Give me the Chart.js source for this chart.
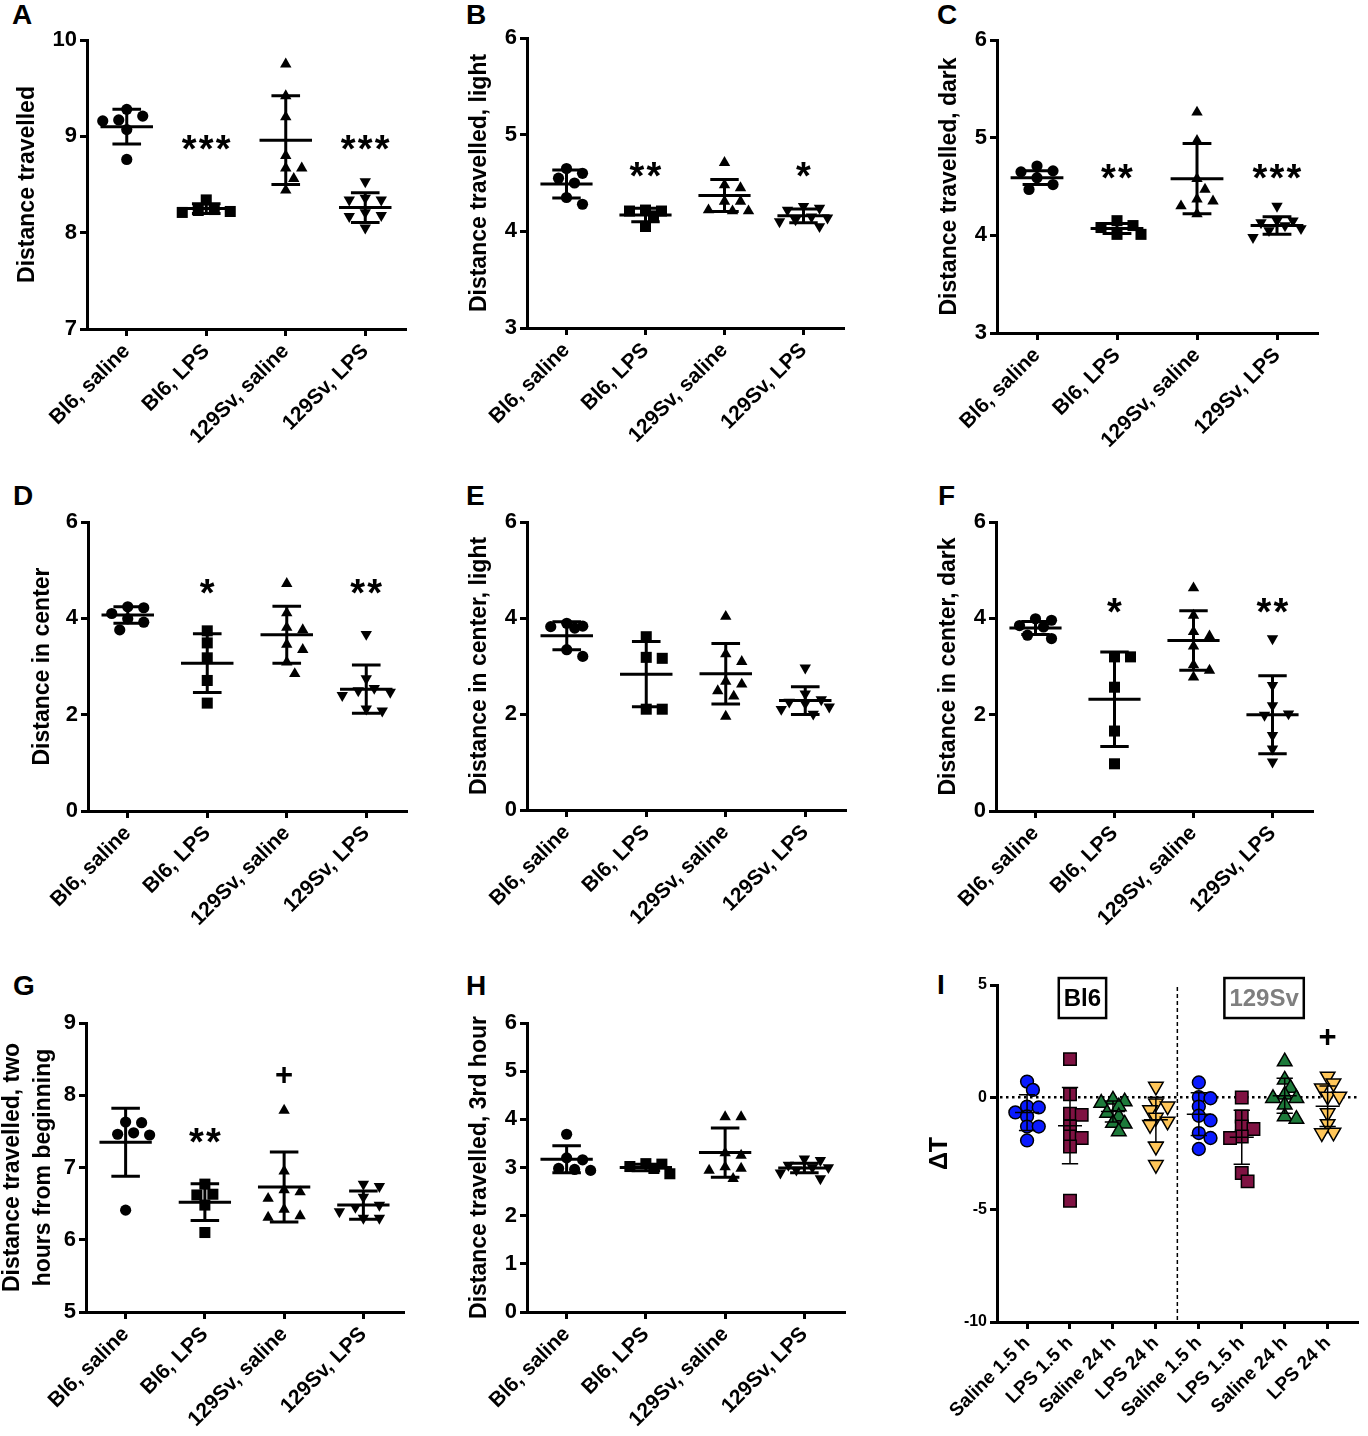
<!DOCTYPE html>
<html>
<head>
<meta charset="utf-8">
<title>Open field and body temperature</title>
<script src="https://cdn.jsdelivr.net/npm/chart.js@4.4.1/dist/chart.umd.min.js"></script>
<style>
  body { margin: 0; background: #fff; width: 1368px; height: 1436px; position: relative; overflow: hidden;
         font-family: "Liberation Sans", Arial, sans-serif; }
  .letter { position: absolute; font-weight: bold; font-size: 28px; line-height: 1; color: #000; }
</style>
</head>
<body>
<div class="letter" style="left:12px;top:1px">A</div>
<div class="letter" style="left:466px;top:1px">B</div>
<div class="letter" style="left:937px;top:1px">C</div>
<div class="letter" style="left:13px;top:482px">D</div>
<div class="letter" style="left:466px;top:482px">E</div>
<div class="letter" style="left:938px;top:482px">F</div>
<div class="letter" style="left:13px;top:972px">G</div>
<div class="letter" style="left:466px;top:972px">H</div>
<div class="letter" style="left:937px;top:971px">I</div>
<script>
Chart.defaults.font.family = '"Liberation Sans", Arial, sans-serif';
Chart.defaults.color = '#000';

var cats = ['Bl6, saline', 'Bl6, LPS', '129Sv, saline', '129Sv, LPS'];
var catsI = ['Saline 1.5 h', 'LPS 1.5 h', 'Saline 24 h', 'LPS 24 h',
             'Saline 1.5 h', 'LPS 1.5 h', 'Saline 24 h', 'LPS 24 h'];

// A - distance travelled
var travelled = [
  [9.28, 9.21, 9.17, 9.16, 9.07, 8.76],
  [8.34, 8.24, 8.23, 8.22, 8.21],
  [9.75, 9.42, 9.20, 8.80, 8.67, 8.67, 8.56, 8.44],
  [8.53, 8.36, 8.34, 8.34, 8.21, 8.18, 8.17, 8.05]
];
var travelledMean = [9.10, 8.25, 8.96, 8.26];
var travelledSd = [0.18, 0.05, 0.46, 0.155];
var travelledMarks = ['', '***', '', '***'];
var travelledMarkY = [null, 8.96, null, 8.96];

// B - distance travelled, light
var light = [
  [4.65, 4.60, 4.55, 4.50, 4.35, 4.28],
  [4.22, 4.21, 4.21, 4.16, 4.05],
  [4.71, 4.48, 4.45, 4.31, 4.31, 4.22, 4.21, 4.21],
  [4.26, 4.24, 4.22, 4.15, 4.14, 4.12, 4.10, 4.05]
];
var lightMean = [4.49, 4.17, 4.37, 4.16];
var lightSd = [0.145, 0.07, 0.165, 0.07];
var lightMarks = ['', '**', '', '*'];
var lightMarkY = [null, 4.66, null, 4.66];

// C - distance travelled, dark
var dark = [
  [4.71, 4.66, 4.65, 4.59, 4.52, 4.47],
  [4.15, 4.10, 4.08, 4.01, 4.01],
  [5.26, 4.97, 4.58, 4.47, 4.37, 4.35, 4.30, 4.22],
  [4.30, 4.15, 4.15, 4.13, 4.10, 4.07, 4.05, 3.98]
];
var darkMean = [4.59, 4.07, 4.58, 4.10];
var darkSd = [0.07, 0.05, 0.36, 0.09];
var darkMarks = ['', '**', '', '***'];
var darkMarkY = [null, 4.68, null, 4.68];

// D - distance in center
var center = [
  [4.24, 4.22, 4.10, 3.99, 3.92, 3.76],
  [3.74, 3.49, 3.18, 2.71, 2.24],
  [4.72, 4.11, 3.81, 3.76, 3.46, 3.35, 3.09, 2.85],
  [3.67, 2.75, 2.55, 2.50, 2.47, 2.40, 2.12, 2.08]
];
var centerMean = [4.07, 3.07, 3.66, 2.53];
var centerSd = [0.17, 0.61, 0.59, 0.50];
var centerMarks = ['', '*', '', '**'];
var centerMarkY = [null, 4.70, null, 4.70];

// E - distance in center, light
var centerLight = [
  [3.89, 3.83, 3.82, 3.79, 3.34, 3.20],
  [3.61, 3.18, 3.16, 2.10, 2.10],
  [4.03, 3.25, 3.09, 2.68, 2.62, 2.48, 2.37, 1.95],
  [2.96, 2.42, 2.30, 2.25, 2.22, 2.15, 2.10, 2.00]
];
var centerLightMean = [3.63, 2.83, 2.84, 2.28];
var centerLightSd = [0.29, 0.68, 0.63, 0.29];
var centerLightMarks = ['', '', '', ''];
var centerLightMarkY = [null, null, null, null];

// F - distance in center, dark
var centerDark = [
  [3.99, 3.96, 3.85, 3.82, 3.65, 3.58],
  [3.20, 3.20, 2.57, 1.66, 0.98],
  [4.63, 4.06, 3.72, 3.63, 3.42, 3.03, 2.92, 2.78],
  [3.58, 2.61, 2.19, 2.02, 1.99, 1.57, 1.29, 1.02]
];
var centerDarkMean = [3.80, 2.32, 3.54, 2.00];
var centerDarkSd = [0.135, 0.98, 0.62, 0.81];
var centerDarkMarks = ['', '*', '', '**'];
var centerDarkMarkY = [null, 4.32, null, 4.32];

// G - distance travelled, first two hours
var firstTwo = [
  [7.63, 7.62, 7.48, 7.46, 7.45, 6.41],
  [6.77, 6.63, 6.62, 6.48, 6.10],
  [7.79, 6.95, 6.69, 6.66, 6.57, 6.42, 6.33, 6.31],
  [6.77, 6.74, 6.59, 6.48, 6.45, 6.39, 6.30, 6.30]
];
var firstTwoMean = [7.35, 6.52, 6.73, 6.48];
var firstTwoSd = [0.47, 0.255, 0.485, 0.195];
var firstTwoMarks = ['', '**', '+', ''];
var firstTwoMarkY = [null, 7.47, 8.28, null];

// H - distance travelled, 3rd hour
var third = [
  [3.69, 3.20, 3.16, 2.98, 2.96, 2.94],
  [3.08, 3.07, 3.02, 2.98, 2.87],
  [4.05, 4.05, 3.30, 3.25, 3.01, 2.98, 2.94, 2.77],
  [3.18, 3.15, 3.05, 3.00, 3.00, 2.95, 2.89, 2.77]
];
var thirdMean = [3.17, 3.00, 3.31, 2.99];
var thirdSd = [0.28, 0.07, 0.51, 0.10];
var thirdMarks = ['', '', '', ''];
var thirdMarkY = [null, null, null, null];

// I - delta T
var deltaT = [
  [0.70, 0.33, -0.41, -0.45, -0.67, -0.85, -1.30, -1.30, -1.92],
  [1.70, 0.14, -0.73, -0.78, -1.30, -1.74, -1.81, -2.19, -4.60],
  [-0.11, -0.19, -0.25, -0.41, -0.70, -0.85, -1.15, -1.18, -1.52],
  [0.48, -0.26, -0.40, -0.56, -0.90, -1.07, -1.22, -2.19, -3.00],
  [0.66, 0.01, -0.04, -0.41, -0.82, -1.03, -1.59, -1.81, -2.30],
  [-0.01, -0.85, -1.30, -1.41, -1.74, -1.81, -3.37, -3.74],
  [1.59, 0.78, 0.41, 0.11, -0.04, -0.04, -0.33, -0.85, -0.97],
  [0.93, 0.63, 0.41, 0.04, 0.04, -0.70, -1.18, -1.56, -1.59]
];
var deltaTMean = [-0.68, -1.26, -0.63, -1.00, -0.75, -1.78, 0.07, -0.40];
var deltaTSd = [0.80, 1.70, 0.47, 1.00, 0.95, 1.20, 0.78, 0.90];
var deltaTMarks = ['', '', '', '', '', '', '', '+'];
var deltaTMarkY = [null, null, null, null, null, null, null, 2.7];
var strains = ['Bl6', '129Sv'];

// marker looks
var blackMarkers = [
  { shape: 'circle', r: 5.6, rot: 0, fill: '#000' },
  { shape: 'rect', r: 7.8, rot: 0, fill: '#000' },
  { shape: 'triangle', r: 6.6, rot: 0, fill: '#000' },
  { shape: 'triangle', r: 6.6, rot: 180, fill: '#000' }
];
var colourMarkers = [
  { shape: 'circle', r: 6.4, rot: 0, fill: '#0a1aff' },
  { shape: 'rect', r: 8.8, rot: 0, fill: '#7f1242' },
  { shape: 'triangle', r: 8.4, rot: 0, fill: '#1d7a3a' },
  { shape: 'triangle', r: 8.4, rot: 180, fill: '#ffc659' }
];

var panels = [
  { title: 'Distance travelled', pts: travelled, mean: travelledMean, sd: travelledSd,
    marks: travelledMarks, markY: travelledMarkY, yMin: 7, yMax: 10, yStep: 1,
    canvas: [0, 0, 450, 480], area: [87, 40, 405, 329], titlePad: 14 },
  { title: 'Distance travelled, light', pts: light, mean: lightMean, sd: lightSd,
    marks: lightMarks, markY: lightMarkY, yMin: 3, yMax: 6, yStep: 1,
    canvas: [450, 0, 460, 480], area: [527, 38, 843, 328], titlePad: 16 },
  { title: 'Distance travelled, dark', pts: dark, mean: darkMean, sd: darkSd,
    marks: darkMarks, markY: darkMarkY, yMin: 3, yMax: 6, yStep: 1,
    canvas: [910, 0, 458, 480], area: [997, 40, 1317, 333], titlePad: 26 },
  { title: 'Distance in center', pts: center, mean: centerMean, sd: centerSd,
    marks: centerMarks, markY: centerMarkY, yMin: 0, yMax: 6, yStep: 2,
    canvas: [0, 480, 450, 480], area: [88, 522, 406, 811], titlePad: 29 },
  { title: 'Distance in center, light', pts: centerLight, mean: centerLightMean, sd: centerLightSd,
    marks: centerLightMarks, markY: centerLightMarkY, yMin: 0, yMax: 6, yStep: 2,
    canvas: [450, 480, 460, 480], area: [527, 522, 845, 810], titlePad: 16 },
  { title: 'Distance in center, dark', pts: centerDark, mean: centerDarkMean, sd: centerDarkSd,
    marks: centerDarkMarks, markY: centerDarkMarkY, yMin: 0, yMax: 6, yStep: 2,
    canvas: [910, 480, 458, 480], area: [996, 522, 1312, 811], titlePad: 25 },
  { title: ['Distance travelled, two', 'hours from beginning'], titleLH: 1.35, pts: firstTwo,
    mean: firstTwoMean, sd: firstTwoSd, marks: firstTwoMarks, markY: firstTwoMarkY,
    yMin: 5, yMax: 9, yStep: 1,
    canvas: [0, 960, 450, 476], area: [86, 1023, 403, 1312], titlePad: -3 },
  { title: 'Distance travelled, 3rd hour', pts: third, mean: thirdMean, sd: thirdSd,
    marks: thirdMarks, markY: thirdMarkY, yMin: 0, yMax: 6, yStep: 1,
    canvas: [450, 960, 460, 476], area: [527, 1023, 844, 1312], titlePad: 16 },
  { title: '\u0394T', titleSize: 25, pts: deltaT, mean: deltaTMean, sd: deltaTSd,
    marks: deltaTMarks, markY: deltaTMarkY, yMin: -10, yMax: 5, yStep: 5,
    canvas: [910, 960, 458, 476], area: [997, 985, 1367, 1322], titlePad: 15,
    cats: catsI, xMin: -0.7, xMax: 7.7, markers: colourMarkers, yFont: 16, xFont: 19,
    barWidth: 1.5, meanHalf: 0.28, capHalf: 0.19, gap: 9, step: 6, spread: 18,
    zeroLine: true, divider: 3.5,
    boxes: [{ text: strains[0], x: 1.29, y: 4.42, colour: '#000' },
            { text: strains[1], x: 5.52, y: 4.42, colour: '#7f7f7f' }] }
];

// spread the points of one group sideways so markers don't sit on each other;
// never wider than +-spread px, past that take the least crowded slot
function swarm(vals, pxY, gap, step, spread) {
  var order = vals.map(function(v, i) { return i; })
    .sort(function(a, b) { return vals[b] - vals[a]; });
  var placed = [], offs = [];
  var slots = [0];
  for (var s = step; s <= spread + 0.01; s += step) slots.push(s, -s);
  order.forEach(function(i) {
    var py = vals[i] * pxY, best = 0, bestD = -1;
    for (var k = 0; k < slots.length; k++) {
      var off = slots[k], dMin = Infinity;
      placed.forEach(function(q) {
        var dx = q[0] - off, dy = q[1] - py;
        dMin = Math.min(dMin, Math.sqrt(dx * dx + dy * dy));
      });
      if (dMin >= gap) { best = off; bestD = dMin; break; }
      if (dMin > bestD) { best = off; bestD = dMin; }
    }
    placed.push([best, py]);
    offs[i] = best;
  });
  return offs;
}

// mean +- SD bars, significance marks, reference lines
var dotPlot = {
  id: 'dotPlot',
  beforeDatasetsDraw: function(chart, args, o) {
    var ctx = chart.ctx, a = chart.chartArea, xs = chart.scales.x, ys = chart.scales.y;
    ctx.save();
    ctx.strokeStyle = '#000';
    if (o.zeroLine) {
      var py = ys.getPixelForValue(0);
      ctx.lineWidth = 2.5;
      ctx.setLineDash([2.5, 3.5]);
      ctx.beginPath(); ctx.moveTo(a.left + 3, py); ctx.lineTo(a.right, py); ctx.stroke();
    }
    if (o.divider != null) {
      var px = xs.getPixelForValue(o.divider);
      ctx.lineWidth = 1.5;
      ctx.setLineDash([4, 3]);
      ctx.beginPath(); ctx.moveTo(px, a.top + 2); ctx.lineTo(px, a.bottom); ctx.stroke();
    }
    ctx.restore();
  },
  afterDatasetsDraw: function(chart, args, o) {
    var ctx = chart.ctx, xs = chart.scales.x, ys = chart.scales.y;
    var unit = xs.getPixelForValue(1) - xs.getPixelForValue(0);
    ctx.save();
    ctx.strokeStyle = '#000';
    ctx.lineWidth = o.barWidth;
    o.mean.forEach(function(m, i) {
      var cx = xs.getPixelForValue(i), my = ys.getPixelForValue(m);
      var hi = ys.getPixelForValue(m + o.sd[i]), lo = ys.getPixelForValue(m - o.sd[i]);
      var mw = o.meanHalf * unit, cw = o.capHalf * unit;
      ctx.beginPath();
      ctx.moveTo(cx - mw, my); ctx.lineTo(cx + mw, my);
      ctx.moveTo(cx, hi); ctx.lineTo(cx, lo);
      ctx.moveTo(cx - cw, hi); ctx.lineTo(cx + cw, hi);
      ctx.moveTo(cx - cw, lo); ctx.lineTo(cx + cw, lo);
      ctx.stroke();
    });
    ctx.fillStyle = '#000';
    ctx.textAlign = 'center';
    ctx.textBaseline = 'alphabetic';
    o.marks.forEach(function(txt, i) {
      if (!txt) return;
      var cx = xs.getPixelForValue(i), cy = ys.getPixelForValue(o.markY[i]);
      if (txt === '+') {
        ctx.font = 'bold 31px "Liberation Sans", Arial, sans-serif';
        ctx.fillText(txt, cx, cy + 0.33 * 31);
        return;
      }
      var fs = 38;
      ctx.font = 'bold ' + fs + 'px "Liberation Sans", Arial, sans-serif';
      var pitch = 17, n = txt.length;
      for (var k = 0; k < n; k++) {
        ctx.fillText(txt[k], cx + (k - (n - 1) / 2) * pitch, cy + 0.57 * fs);
      }
    });
    (o.boxes || []).forEach(function(b) {
      var cx = xs.getPixelForValue(b.x), cy = ys.getPixelForValue(b.y);
      ctx.font = 'bold 24px "Liberation Sans", Arial, sans-serif';
      var w = ctx.measureText(b.text).width + 10, h = 40;
      ctx.lineWidth = 2.5;
      ctx.strokeRect(cx - w / 2, cy - h / 2, w, h);
      ctx.fillStyle = b.colour;
      ctx.textBaseline = 'middle';
      ctx.fillText(b.text, cx, cy + 1);
    });
    ctx.restore();
  }
};

function makeChart(p) {
  var cl = p.canvas[0], ct = p.canvas[1], cw = p.canvas[2], ch = p.canvas[3];
  var aL = p.area[0], aT = p.area[1], aR = p.area[2], aB = p.area[3];
  var labels = p.cats || cats;
  var xMin = p.xMin != null ? p.xMin : -0.5, xMax = p.xMax != null ? p.xMax : 3.5;
  var markers = p.markers || blackMarkers;
  var pxX = (aR - aL) / (xMax - xMin), pxY = (aB - aT) / (p.yMax - p.yMin);
  var cv = document.createElement('canvas');
  cv.width = cw; cv.height = ch;
  cv.style.cssText = 'position:absolute;left:' + cl + 'px;top:' + ct + 'px;width:' + cw + 'px;height:' + ch + 'px';
  document.body.appendChild(cv);

  var datasets = p.pts.map(function(vals, i) {
    var mk = markers[i % 4];
    var offs = swarm(vals, pxY, p.gap || 12, p.step || 8, p.spread || 24);
    return {
      data: vals.map(function(v, k) { return { x: i + offs[k] / pxX, y: v }; }),
      pointStyle: mk.shape,
      pointRotation: mk.rot,
      pointRadius: mk.r,
      backgroundColor: mk.fill,
      borderColor: '#000',
      borderWidth: p.markers ? 1.5 : 0
    };
  });

  var tickGrid = { drawOnChartArea: false, drawTicks: true, tickLength: 7, lineWidth: 3, color: '#000' };
  var axisLine = { display: true, width: 3, color: '#000' };

  return new Chart(cv, {
    type: 'scatter',
    data: { datasets: datasets },
    plugins: [dotPlot],
    options: {
      responsive: false,
      animation: false,
      events: [],
      layout: { padding: { left: 0, top: aT - ct, right: cl + cw - aR, bottom: 0 } },
      plugins: {
        legend: { display: false },
        tooltip: { enabled: false },
        dotPlot: {
          mean: p.mean, sd: p.sd, marks: p.marks, markY: p.markY,
          barWidth: p.barWidth || 3, meanHalf: p.meanHalf || 0.33, capHalf: p.capHalf || 0.18,
          zeroLine: p.zeroLine, divider: p.divider, boxes: p.boxes
        }
      },
      scales: {
        x: {
          type: 'linear', min: xMin, max: xMax,
          afterBuildTicks: function(s) { s.ticks = labels.map(function(c, i) { return { value: i }; }); },
          afterFit: function(s) { s.height = ct + ch - aB; s.paddingLeft = 0; s.paddingRight = 0; },
          ticks: {
            autoSkip: false, minRotation: 45, maxRotation: 45, padding: 3, color: '#000',
            font: { size: p.xFont || 21, weight: 'bold' },
            callback: function(v) { return labels[v]; }
          },
          grid: tickGrid,
          border: axisLine
        },
        y: {
          min: p.yMin, max: p.yMax,
          afterFit: function(s) { s.width = aL - cl; s.paddingTop = 0; s.paddingBottom = 0; },
          ticks: { stepSize: p.yStep, padding: 3, color: '#000', font: { size: p.yFont || 22, weight: 'bold' } },
          grid: tickGrid,
          border: axisLine,
          title: {
            display: true, text: p.title, color: '#000',
            font: { size: p.titleSize || 23, weight: 'bold', lineHeight: p.titleLH || 1.2 },
            padding: { top: p.titlePad, bottom: 0 }
          }
        }
      }
    }
  });
}

panels.forEach(makeChart);
</script>
</body>
</html>
